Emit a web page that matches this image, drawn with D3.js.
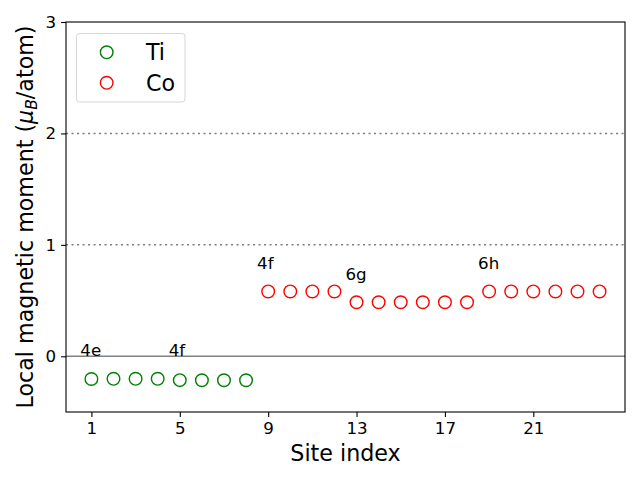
<!DOCTYPE html>
<html>
<head>
<meta charset="utf-8">
<script src="https://cdn.jsdelivr.net/npm/d3@7"></script>
<style>
  body { margin: 0; background: #fff; }
  svg { display: block; font-family: "DejaVu Sans", sans-serif; }
</style>
</head>
<body>
<svg id="chart" width="640" height="480"></svg>
<script>
// ---- data ----
const tiSites = [1, 2, 3, 4, 5, 6, 7, 8];
const tiMoments = [-0.204, -0.202, -0.202, -0.202, -0.214, -0.215, -0.215, -0.215];
const coSites = [9, 10, 11, 12, 13, 14, 15, 16, 17, 18, 19, 20, 21, 22, 23, 24];
const coMoments = [0.582, 0.582, 0.582, 0.582, 0.485, 0.485, 0.485, 0.485, 0.485, 0.485, 0.582, 0.582, 0.582, 0.582, 0.582, 0.582];
const wyckoffLabels = ["4e", "4f", "4f", "6g", "6h"];
const wyckoffX = [0.5, 4.5, 8.5, 12.5, 18.5];
const wyckoffY = [0.0, 0.0, 0.78, 0.685, 0.78];
const xTicks = [1, 5, 9, 13, 17, 21];
const yTicks = [0, 1, 2, 3];
const refLines = [1, 2];
const seriesNames = ["Ti", "Co"];
const seriesColors = ["green", "red"];

// ---- layout ----
const svg = d3.select("#chart");
const L = 66, R = 625, T = 22, B = 412;
const x = d3.scaleLinear().domain([-0.15, 25.15]).range([L, R]);
const y = d3.scaleLinear().domain([-0.5, 3]).range([B, T]);

// reference lines
svg.selectAll("line.ref").data(refLines).join("line")
  .attr("x1", L).attr("x2", R)
  .attr("y1", d => y(d)).attr("y2", d => y(d))
  .attr("stroke", "#808080").attr("stroke-width", 1.5)
  .attr("stroke-dasharray", "2.1,3.4");
svg.append("line")
  .attr("x1", L).attr("x2", R).attr("y1", y(0)).attr("y2", y(0))
  .attr("stroke", "#808080").attr("stroke-width", 1.5);

// axes
const xAxis = d3.axisBottom(x).tickValues(xTicks).tickSize(4.9).tickPadding(4.9).tickFormat(d3.format("d"));
const yAxis = d3.axisLeft(y).tickValues(yTicks).tickSize(4.9).tickPadding(4.9).tickFormat(d3.format("d"));
const gx = svg.append("g").attr("transform", `translate(0,${B})`).call(xAxis);
const gy = svg.append("g").attr("transform", `translate(${L},0)`).call(yAxis);
[gx, gy].forEach(g => {
  g.select(".domain").remove();
  g.selectAll("text").attr("font-family", "DejaVu Sans").attr("font-size", 16.67).attr("fill", "#000");
  g.selectAll("line").attr("stroke", "#000").attr("stroke-width", 1.1);
});

// frame
svg.append("rect").attr("x", L).attr("y", T).attr("width", R - L).attr("height", B - T)
  .attr("fill", "none").attr("stroke", "#000").attr("stroke-width", 1.1);

// points
const ti = tiSites.map((s, i) => ({s, v: tiMoments[i]}));
const co = coSites.map((s, i) => ({s, v: coMoments[i]}));
svg.append("g").selectAll("circle").data(ti).join("circle")
  .attr("cx", d => x(d.s)).attr("cy", d => y(d.v)).attr("r", 6.3)
  .attr("fill", "none").attr("stroke", seriesColors[0]).attr("stroke-width", 1.4);
svg.append("g").selectAll("circle").data(co).join("circle")
  .attr("cx", d => x(d.s)).attr("cy", d => y(d.v)).attr("r", 6.3)
  .attr("fill", "none").attr("stroke", seriesColors[1]).attr("stroke-width", 1.4);

// wyckoff labels
svg.append("g").selectAll("text").data(wyckoffLabels).join("text")
  .attr("x", (d, i) => x(wyckoffX[i])).attr("y", (d, i) => y(wyckoffY[i]))
  .attr("font-size", 16.67).attr("fill", "#000").text(d => d);

// axis labels
svg.append("text").attr("x", (L + R) / 2).attr("y", 461).attr("text-anchor", "middle")
  .attr("font-size", 22.2).attr("fill", "#000").text("Site index");
const yl = svg.append("text").attr("transform", `translate(33,${(T + B) / 2}) rotate(-90)`)
  .attr("text-anchor", "middle").attr("font-size", 22.2).attr("fill", "#000");
yl.append("tspan").text("Local magnetic moment (");
yl.append("tspan").attr("font-style", "italic").text("μ");
yl.append("tspan").attr("font-style", "italic").attr("font-size", 15.5).attr("dy", 4).text("B");
yl.append("tspan").attr("dy", -4).text("/atom)");

// legend
const lg = svg.append("g");
lg.append("rect").attr("x", 76.5).attr("y", 33.5).attr("width", 108.5).attr("height", 68.5)
  .attr("rx", 3).attr("fill", "#fff").attr("fill-opacity", 0.8).attr("stroke", "#d6d6d6").attr("stroke-width", 1);
seriesNames.forEach((n, i) => {
  const cy = 52.3 + i * 30.5;
  lg.append("circle").attr("cx", 106.7).attr("cy", cy).attr("r", 6.3)
    .attr("fill", "none").attr("stroke", seriesColors[i]).attr("stroke-width", 1.4);
  lg.append("text").attr("x", 146).attr("y", cy + 8).attr("font-size", 22.2).attr("fill", "#000").text(n);
});
</script>
</body>
</html>
